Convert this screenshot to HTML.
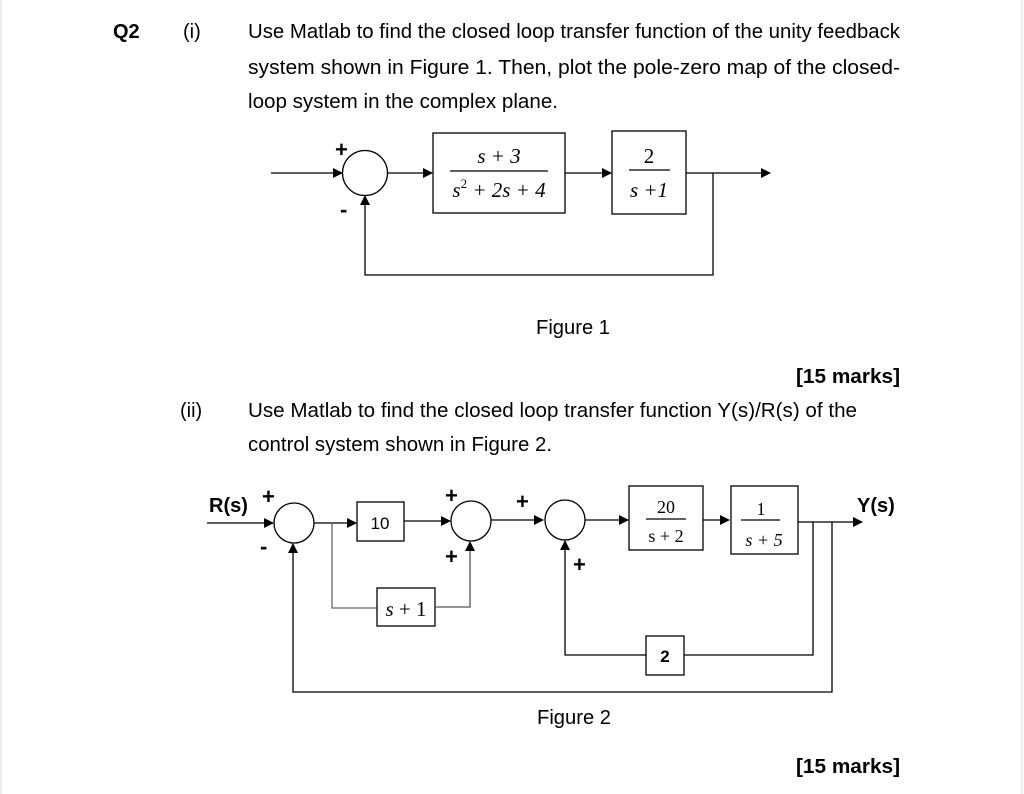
<!DOCTYPE html>
<html><head><meta charset="utf-8"><style>
html,body{margin:0;padding:0;background:#fff;}
svg{display:block;}
text{font-family:"Liberation Sans",Arial,sans-serif;fill:#000;}
.m{font-family:"Liberation Serif","Times New Roman",serif;}
</style></head><body>
<svg width="1024" height="794" viewBox="0 0 1024 794" xmlns="http://www.w3.org/2000/svg">
<defs><marker id="a" markerWidth="10" markerHeight="10" refX="9" refY="5" orient="auto" markerUnits="userSpaceOnUse"><path d="M0,0 L10,5 L0,10 z" fill="#000"/></marker></defs>
<rect x="0" y="0" width="1024" height="794" fill="#fff"/>
<line x1="1" y1="0" x2="1" y2="794" stroke="#ddd"/><line x1="1022" y1="0" x2="1022" y2="794" stroke="#ddd"/>
<g font-size="20">
<text x="113" y="38" font-weight="bold">Q2</text>
<text x="183" y="38">(i)</text>
<text x="248" y="38" textLength="652" lengthAdjust="spacingAndGlyphs">Use Matlab to find the closed loop transfer function of the unity feedback</text>
<text x="248" y="74" textLength="652" lengthAdjust="spacingAndGlyphs">system shown in Figure 1. Then, plot the pole-zero map of the closed-</text>
<text x="248" y="108" textLength="310" lengthAdjust="spacingAndGlyphs">loop system in the complex plane.</text>
<text x="536" y="334" textLength="74" lengthAdjust="spacingAndGlyphs">Figure 1</text>
<text x="796" y="383" font-weight="bold" textLength="104" lengthAdjust="spacingAndGlyphs">[15 marks]</text>
<text x="180" y="417">(ii)</text>
<text x="248" y="417" textLength="609" lengthAdjust="spacingAndGlyphs">Use Matlab to find the closed loop transfer function Y(s)/R(s) of the</text>
<text x="248" y="451" textLength="304" lengthAdjust="spacingAndGlyphs">control system shown in Figure 2.</text>
<text x="537" y="724" textLength="74" lengthAdjust="spacingAndGlyphs">Figure 2</text>
<text x="796" y="773" font-weight="bold" textLength="104" lengthAdjust="spacingAndGlyphs">[15 marks]</text>
</g>
<g stroke="#000" stroke-width="1.3" fill="none">
<line x1="271" y1="173" x2="342" y2="173" marker-end="url(#a)"/>
<circle cx="365" cy="173" r="22.5"/>
<line x1="388" y1="173" x2="432" y2="173" marker-end="url(#a)"/>
<rect x="433" y="133" width="132" height="80"/>
<line x1="565" y1="173" x2="611" y2="173" marker-end="url(#a)"/>
<rect x="612" y="131" width="74" height="83"/>
<line x1="686" y1="173" x2="770" y2="173" marker-end="url(#a)"/>
<polyline points="713,173 713,275 365,275 365,196" marker-end="url(#a)"/>
<line x1="450" y1="171" x2="548" y2="171"/>
<line x1="629" y1="170" x2="670" y2="170"/>
<line x1="207" y1="523" x2="273" y2="523" marker-end="url(#a)"/>
<circle cx="294" cy="523" r="20"/>
<line x1="314" y1="523" x2="356" y2="523" marker-end="url(#a)"/>
<rect x="357" y="502" width="47" height="39"/>
<line x1="404" y1="521" x2="450" y2="521" marker-end="url(#a)"/>
<circle cx="471" cy="521" r="20"/>
<polyline points="332,523 332,608 377,608" stroke="#666"/>
<rect x="377" y="588" width="58" height="38"/>
<polyline points="435,607 470,607 470,542" stroke="#555" marker-end="url(#a)"/>
<polyline points="832,522 832,692 293,692 293,544" marker-end="url(#a)"/>
<line x1="491" y1="520" x2="543" y2="520" marker-end="url(#a)"/>
<circle cx="565" cy="520" r="20"/>
<line x1="585" y1="520" x2="628" y2="520" marker-end="url(#a)"/>
<rect x="629" y="486" width="74" height="64"/>
<line x1="703" y1="520" x2="729" y2="520" marker-end="url(#a)"/>
<rect x="731" y="486" width="67" height="68"/>
<line x1="798" y1="522" x2="862" y2="522" marker-end="url(#a)"/>
<polyline points="813,522 813,655 684,655"/>
<rect x="646" y="636" width="38" height="39"/>
<polyline points="646,655 565,655 565,541" marker-end="url(#a)"/>
<line x1="646" y1="519" x2="686" y2="519"/>
<line x1="741" y1="520" x2="780" y2="520"/>
</g>
<g class="m" font-size="21" text-anchor="middle">
<text x="499" y="163" class="m" font-style="italic">s + 3</text>
<text x="499" y="197" class="m" font-style="italic">s<tspan font-size="13" dy="-9" font-style="normal">2</tspan><tspan dy="9"> + 2s + 4</tspan></text>
<text x="649" y="163" class="m">2</text>
<text x="649" y="197" class="m" font-style="italic">s +1</text>
<text x="666" y="513" class="m" font-size="18">20</text>
<text x="666" y="542" class="m" font-size="18">s + 2</text>
<text x="761" y="515" class="m" font-size="18">1</text>
<text x="764" y="546" class="m" font-size="18" font-style="italic">s + 5</text>
<text x="406" y="616" class="m" font-size="21"><tspan font-style="italic">s</tspan> + 1</text>
</g>
<g font-size="17" text-anchor="middle">
<text x="380" y="529">10</text>
<text x="665" y="662" font-weight="bold">2</text>
</g>
<g font-weight="bold" font-size="20">
<text x="335" y="157" font-size="22">+</text>
<text x="340" y="217" font-size="22">-</text>
<text x="209" y="512">R(s)</text>
<text x="262" y="504" font-size="22">+</text>
<text x="260" y="554" font-size="22">-</text>
<text x="445" y="503" font-size="22">+</text>
<text x="445" y="564" font-size="22">+</text>
<text x="516" y="509" font-size="22">+</text>
<text x="573" y="572" font-size="22">+</text>
<text x="857" y="512">Y(s)</text>
</g>
</svg>
</body></html>
